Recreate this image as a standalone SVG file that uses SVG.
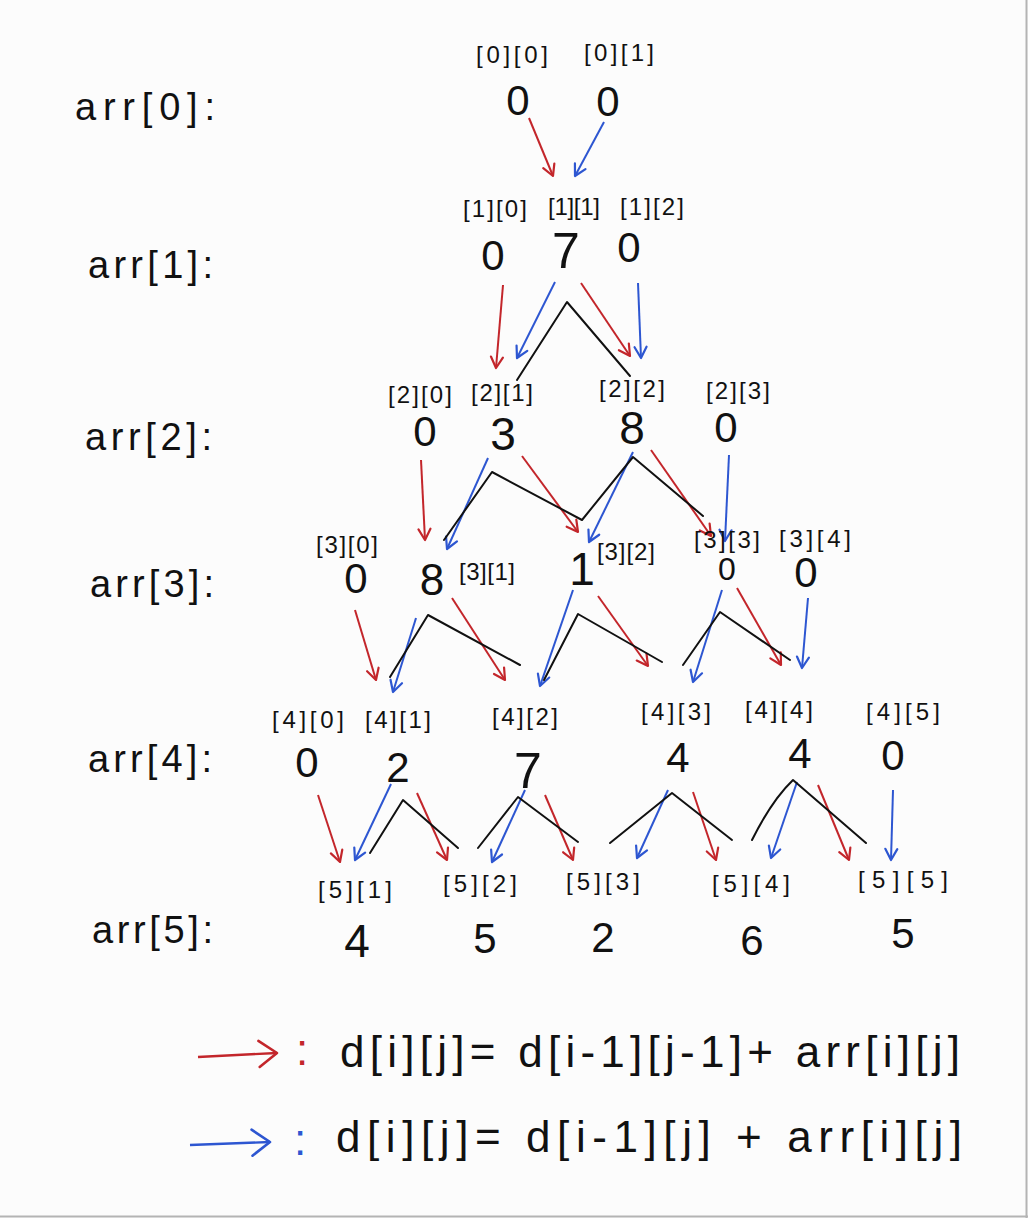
<svg xmlns="http://www.w3.org/2000/svg" width="1028" height="1218" viewBox="0 0 1028 1218">
<style>
.lbl{font-family:"Liberation Sans",Arial,sans-serif;font-size:38px;fill:#111}
.idx{font-family:"Liberation Sans",Arial,sans-serif;font-size:24px;fill:#111;text-anchor:middle}
.val{font-family:"Liberation Sans",Arial,sans-serif;font-size:42px;fill:#111;text-anchor:middle}
.eq{font-family:"Liberation Sans",Arial,sans-serif;font-size:44px;fill:#111}
.r{stroke:#c3262b;stroke-width:2;fill:none;marker-end:url(#hr)}
.b{stroke:#2d56d1;stroke-width:2;fill:none;marker-end:url(#hb)}
.k{stroke:#111;stroke-width:2;fill:none;stroke-linejoin:round;stroke-linecap:round}
</style>
<defs>
<marker id="hr" markerUnits="userSpaceOnUse" markerWidth="18" markerHeight="18" refX="14" refY="8" orient="auto"><path d="M3,2 L14,8 L3,14" fill="none" stroke="#c3262b" stroke-width="2.2" stroke-linecap="round" stroke-linejoin="round"/></marker>
<marker id="hb" markerUnits="userSpaceOnUse" markerWidth="18" markerHeight="18" refX="14" refY="8" orient="auto"><path d="M3,2 L14,8 L3,14" fill="none" stroke="#2d56d1" stroke-width="2.2" stroke-linecap="round" stroke-linejoin="round"/></marker>
<marker id="hrL" markerUnits="userSpaceOnUse" markerWidth="26" markerHeight="30" refX="22" refY="15" orient="auto"><path d="M4,2 L22,15 L4,28" fill="none" stroke="#c3262b" stroke-width="2.6" stroke-linecap="round" stroke-linejoin="round"/></marker>
<marker id="hbL" markerUnits="userSpaceOnUse" markerWidth="26" markerHeight="30" refX="22" refY="15" orient="auto"><path d="M4,2 L22,15 L4,28" fill="none" stroke="#2d56d1" stroke-width="2.6" stroke-linecap="round" stroke-linejoin="round"/></marker>
</defs>
<rect x="0" y="0" width="1028" height="1218" fill="#fcfcfc"/>
<line x1="1026.5" y1="0" x2="1026.5" y2="1218" stroke="#b4b4b4" stroke-width="2"/>
<line x1="0" y1="1216.5" x2="1028" y2="1216.5" stroke="#b4b4b4" stroke-width="2"/>

<g id="row-labels">
<text class="lbl" x="75" y="120" textLength="140" lengthAdjust="spacing">arr[0]:</text>
<text class="lbl" x="88" y="278" textLength="125" lengthAdjust="spacing">arr[1]:</text>
<text class="lbl" x="85" y="450" textLength="127" lengthAdjust="spacing">arr[2]:</text>
<text class="lbl" x="90" y="597" textLength="124" lengthAdjust="spacing">arr[3]:</text>
<text class="lbl" x="88" y="772" textLength="124" lengthAdjust="spacing">arr[4]:</text>
<text class="lbl" x="92" y="943" textLength="121" lengthAdjust="spacing">arr[5]:</text>
</g>

<g id="connectors">
<line class="r" x1="529" y1="118" x2="553" y2="176"/>
<line class="b" x1="604" y1="122" x2="575" y2="176"/>

<line class="r" x1="503" y1="285" x2="496" y2="368"/>
<line class="b" x1="555" y1="282" x2="517" y2="358"/>
<line class="r" x1="581" y1="283" x2="630" y2="356"/>
<line class="b" x1="638" y1="283" x2="641" y2="358"/>
<polyline class="k" points="517,380 567,302 630,376"/>

<line class="r" x1="421" y1="460" x2="425" y2="540"/>
<line class="b" x1="488" y1="458" x2="447" y2="549"/>
<line class="r" x1="522" y1="456" x2="578" y2="532"/>
<line class="b" x1="633" y1="452" x2="589" y2="542"/>
<line class="r" x1="651" y1="450" x2="711" y2="536"/>
<line class="b" x1="729" y1="455" x2="725" y2="541"/>
<polyline class="k" points="444,540 492,472 582,520 633,457 703,516"/>

<line class="r" x1="355" y1="610" x2="376" y2="680"/>
<line class="b" x1="416" y1="618" x2="393" y2="692"/>
<line class="r" x1="452" y1="598" x2="505" y2="680"/>
<line class="b" x1="573" y1="590" x2="540" y2="686"/>
<line class="r" x1="598" y1="596" x2="648" y2="666"/>
<line class="b" x1="722" y1="590" x2="693" y2="682"/>
<line class="r" x1="737" y1="588" x2="781" y2="665"/>
<line class="b" x1="808" y1="598" x2="802" y2="668"/>
<polyline class="k" points="390,677 428,615 520,665"/>
<polyline class="k" points="544,680 578,614 662,662"/>
<polyline class="k" points="683,665 720,612 790,660"/>

<line class="r" x1="318" y1="795" x2="340" y2="862"/>
<line class="b" x1="391" y1="784" x2="355" y2="860"/>
<line class="r" x1="417" y1="793" x2="447" y2="860"/>
<line class="b" x1="525" y1="790" x2="492" y2="862"/>
<line class="r" x1="545" y1="795" x2="573" y2="860"/>
<line class="b" x1="668" y1="790" x2="637" y2="858"/>
<line class="r" x1="693" y1="792" x2="716" y2="860"/>
<line class="b" x1="797" y1="782" x2="771" y2="858"/>
<line class="r" x1="818" y1="785" x2="849" y2="860"/>
<line class="b" x1="893" y1="790" x2="891" y2="860"/>
<polyline class="k" points="370,853 403,800 458,848"/>
<polyline class="k" points="478,848 518,797 578,842"/>
<polyline class="k" points="610,843 672,793 732,840"/>
<path class="k" d="M752,840 Q772,800 793,780 L866,843"/>
</g>

<g id="row0">
<g id="n0-0"><text class="idx" x="512" y="63" textLength="72" lengthAdjust="spacing">[0][0]</text><text class="val" x="518" y="115">0</text></g>
<g id="n0-1"><text class="idx" x="619" y="61" textLength="70" lengthAdjust="spacing">[0][1]</text><text class="val" x="608" y="116">0</text></g>
</g>
<g id="row1">
<g id="n1-0"><text class="idx" x="495" y="217" textLength="64" lengthAdjust="spacing">[1][0]</text><text class="val" x="493" y="270">0</text></g>
<g id="n1-1"><text class="idx" x="574" y="215" textLength="52" lengthAdjust="spacing">[1][1]</text><text class="val" x="566" y="268" style="font-size:50px">7</text></g>
<g id="n1-2"><text class="idx" x="652" y="215" textLength="64" lengthAdjust="spacing">[1][2]</text><text class="val" x="629" y="262">0</text></g>
</g>
<g id="row2">
<g id="n2-0"><text class="idx" x="420" y="403" textLength="64" lengthAdjust="spacing">[2][0]</text><text class="val" x="425" y="446">0</text></g>
<g id="n2-1"><text class="idx" x="502" y="401" textLength="62" lengthAdjust="spacing">[2][1]</text><text class="val" x="503" y="450" style="font-size:46px">3</text></g>
<g id="n2-2"><text class="idx" x="632" y="397" textLength="66" lengthAdjust="spacing">[2][2]</text><text class="val" x="632" y="444" style="font-size:46px">8</text></g>
<g id="n2-3"><text class="idx" x="738" y="399" textLength="64" lengthAdjust="spacing">[2][3]</text><text class="val" x="726" y="442">0</text></g>
</g>
<g id="row3">
<g id="n3-0"><text class="idx" x="347" y="553" textLength="62" lengthAdjust="spacing">[3][0]</text><text class="val" x="356" y="593">0</text></g>
<g id="n3-1"><text class="idx" x="487" y="580" textLength="56" lengthAdjust="spacing">[3][1]</text><text class="val" x="432" y="595" style="font-size:44px">8</text></g>
<g id="n3-2"><text class="idx" x="626" y="560" textLength="58" lengthAdjust="spacing">[3][2]</text><text class="val" x="582" y="585" style="font-size:46px">1</text></g>
<g id="n3-3"><text class="idx" x="727" y="548" textLength="66" lengthAdjust="spacing">[3][3]</text><text class="val" x="727" y="580" style="font-size:32px">0</text></g>
<g id="n3-4"><text class="idx" x="815" y="547" textLength="72" lengthAdjust="spacing">[3][4]</text><text class="val" x="806" y="587">0</text></g>
</g>
<g id="row4">
<g id="n4-0"><text class="idx" x="308" y="728" textLength="72" lengthAdjust="spacing">[4][0]</text><text class="val" x="307" y="777">0</text></g>
<g id="n4-1"><text class="idx" x="398" y="728" textLength="66" lengthAdjust="spacing">[4][1]</text><text class="val" x="398" y="782">2</text></g>
<g id="n4-2"><text class="idx" x="525" y="725" textLength="66" lengthAdjust="spacing">[4][2]</text><text class="val" x="528" y="788" style="font-size:50px">7</text></g>
<g id="n4-3"><text class="idx" x="676" y="720" textLength="70" lengthAdjust="spacing">[4][3]</text><text class="val" x="678" y="772">4</text></g>
<g id="n4-4"><text class="idx" x="779" y="718" textLength="68" lengthAdjust="spacing">[4][4]</text><text class="val" x="800" y="768">4</text></g>
<g id="n4-5"><text class="idx" x="903" y="720" textLength="74" lengthAdjust="spacing">[4][5]</text><text class="val" x="893" y="770">0</text></g>
</g>
<g id="row5">
<g id="n5-1"><text class="idx" x="355" y="898" textLength="74" lengthAdjust="spacing">[5][1]</text><text class="val" x="357" y="957" style="font-size:46px">4</text></g>
<g id="n5-2"><text class="idx" x="480" y="892" textLength="74" lengthAdjust="spacing">[5][2]</text><text class="val" x="485" y="953">5</text></g>
<g id="n5-3"><text class="idx" x="603" y="890" textLength="74" lengthAdjust="spacing">[5][3]</text><text class="val" x="603" y="952">2</text></g>
<g id="n5-4"><text class="idx" x="751" y="892" textLength="78" lengthAdjust="spacing">[5][4]</text><text class="val" x="752" y="955">6</text></g>
<g id="n5-5"><text class="idx" x="903" y="888" textLength="90" lengthAdjust="spacing">[5][5]</text><text class="val" x="903" y="948">5</text></g>
</g>

<g id="legend">
<line x1="198" y1="1057" x2="277" y2="1053" stroke="#c3262b" stroke-width="2.4" marker-end="url(#hrL)"/>
<text class="eq" x="296" y="1065" style="fill:#c3262b">:</text>
<text class="eq" x="340" y="1067" textLength="620" lengthAdjust="spacing">d[i][j]= d[i-1][j-1]+ arr[i][j]</text>
<line x1="190" y1="1145" x2="270" y2="1142" stroke="#2d56d1" stroke-width="2.4" marker-end="url(#hbL)"/>
<text class="eq" x="294" y="1155" style="fill:#2d56d1">:</text>
<text class="eq" x="336" y="1152" textLength="626" lengthAdjust="spacing">d[i][j]= d[i-1][j] + arr[i][j]</text>
</g>
</svg>
